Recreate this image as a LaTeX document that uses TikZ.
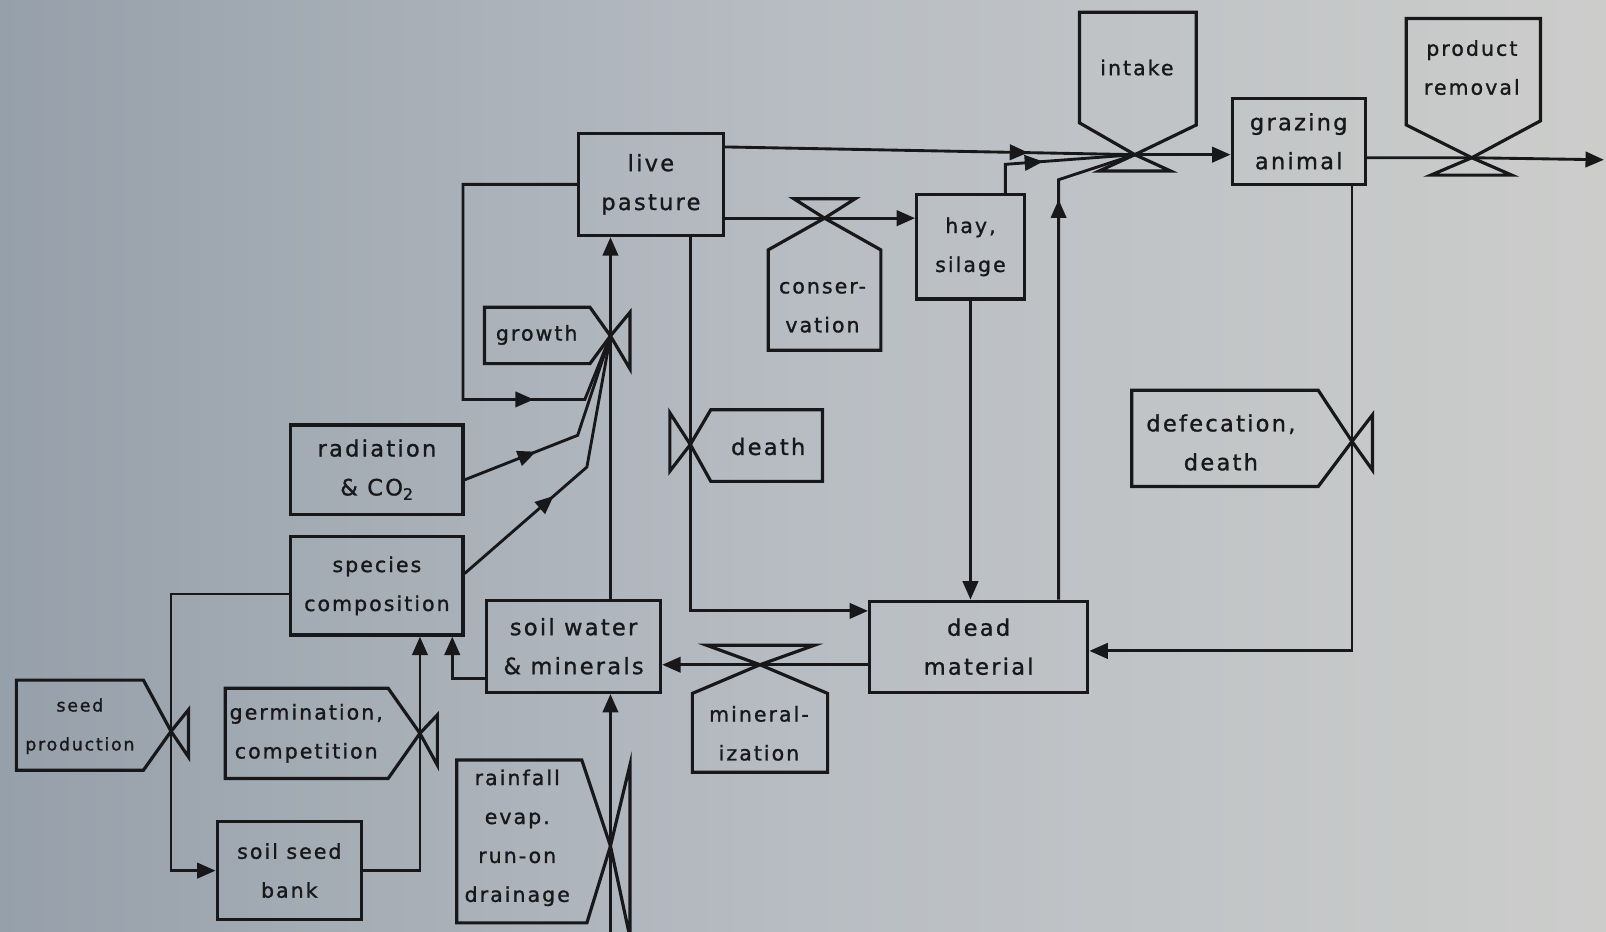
\documentclass[tikz,border=0pt]{standalone}
\usepackage{fontspec}
\setmainfont{DejaVu Sans}[LetterSpace=10,FakeBold=1.2]
\usetikzlibrary{arrows.meta,calc,decorations.markings}
\definecolor{ink}{RGB}{24,24,26}
\definecolor{bgL}{RGB}{150,160,170}
\definecolor{bgM}{RGB}{184,189,195}
\definecolor{bgR}{RGB}{204,205,203}
\tikzset{
  every node/.style={font=\fontsize{20}{38}\selectfont, text=ink},
  box/.style={draw=ink, line width=3.1pt, align=center, inner sep=0pt},
  lbl/.style={align=center, inner sep=0pt},
  big/.style={font=\fontsize{22}{38}\selectfont},
  conn/.style={draw=ink, color=ink, line width=2.8pt},
  shp/.style={draw=ink, line width=3.1pt, line join=miter},
  endarrow/.style={-{Triangle[length=18pt,width=15pt]}},
  arrowat/.style={decoration={markings, mark=at position #1 with {\arrow{Triangle[length=18pt,width=15pt]}}}, postaction={decorate}},
}
\begin{document}
\begin{tikzpicture}[x=1pt,y=-1pt]
\useasboundingbox (0,0) rectangle (1568,909);
\shade[left color=bgL, right color=bgR, middle color=bgM] (0,0) rectangle (1568,909);
\clip (0,0) rectangle (1568,909);

% stocks
\node[box, big, minimum width=141pt, minimum height=100pt] (live) at (635.5,180) {live\\pasture};
\node[box, minimum width=105pt, minimum height=102pt] (hay) at (947.5,241) {hay,\\silage};
\node[box, big, minimum width=130pt, minimum height=84pt] (graze) at (1268,138) {grazing\\animal};
\node[box, big, minimum width=168pt, minimum height=87pt] (rad) at (368,458.5) {radiation\\\& CO\textsubscript{2}};
\node[box, minimum width=168pt, minimum height=96pt] (spec) at (368,572) {species\\composition};
\node[box, big, minimum width=170pt, minimum height=90pt] (soil) at (560,631) {soil water\\\& minerals};
\node[box, minimum width=141pt, minimum height=96pt] (bank) at (282.5,850) {soil seed\\bank};
\node[box, big, minimum width=213pt, minimum height=89pt] (dead) at (955.5,631.5) {dead\\material};

% valve centres
\coordinate (vgrowth) at (596,328);
\coordinate (vseed) at (167,714);
\coordinate (vgerm) at (410,716);
\coordinate (vrain) at (596,826);
\coordinate (vdeath) at (674,434);
\coordinate (vdefec) at (1320,431);
\coordinate (vcons) at (805,213);
\coordinate (vmin) at (742,649);
\coordinate (vintake) at (1108,151);
\coordinate (vprod) at (1437,154);
\coordinate (out) at (1566,156);
\coordinate (rainbot) at (596,915);

% valves with their labels
\draw[shp] (vgrowth) -- (576,300) -- (473,300) -- (473,355) -- (576,355) -- cycle;
\draw[shp] (vgrowth) -- (615,305) -- (615,360) -- cycle;
\node[lbl] (tgrowth) at (524,327) {growth};

\draw[shp] (vseed) -- (140,664) -- (16,664) -- (16,752) -- (140,752) -- cycle;
\draw[shp] (vseed) -- (184,693) -- (184,739) -- cycle;
\node[lbl, font=\fontsize{17}{38}\selectfont] (tseed) at (78,709) {seed\\production};

\draw[shp] (vgerm) -- (379,672) -- (220,672) -- (220,760) -- (379,760) -- cycle;
\draw[shp] (vgerm) -- (427,698) -- (427,747) -- cycle;
\node[lbl] (tgerm) at (299,716) {germination,\\competition};

\draw[shp] (vrain) -- (568,742) -- (446,742) -- (446,901) -- (573,901) -- cycle;
\draw[shp] (vrain) -- (615,747) -- (615,915) -- cycle;
\node[lbl] (train) at (505,818) {rainfall\\evap.\\run-on\\drainage};

\draw[shp] (vdeath) -- (694,400) -- (803,400) -- (803,470) -- (694,470) -- cycle;
\draw[shp] (vdeath) -- (654,403) -- (654,460) -- cycle;
\node[lbl, big] (tdeath) at (750,436) {death};

\draw[shp] (vdefec) -- (1287,381) -- (1105,381) -- (1105,475) -- (1287,475) -- cycle;
\draw[shp] (vdefec) -- (1340,405) -- (1340,459) -- cycle;
\node[lbl, big] (tdefec) at (1192,432) {defecation,\\death};

\draw[shp] (vcons) -- (775,194) -- (835,194) -- cycle;
\draw[shp] (vcons) -- (860,244) -- (860,342) -- (750,342) -- (750,244) -- cycle;
\node[lbl] (tcons) at (803,300) {conser-\\vation};

\draw[shp] (vmin) -- (690,630) -- (795,630) -- cycle;
\draw[shp] (vmin) -- (808,677) -- (808,754) -- (676,754) -- (676,677) -- cycle;
\node[lbl] (tmin) at (741,716) {mineral-\\ization};

\draw[shp] (vintake) -- (1054,120) -- (1054,12) -- (1168,12) -- (1168,122) -- cycle;
\draw[shp] (vintake) -- (1073,167) -- (1143,167) -- cycle;
\node[lbl] (tintake) at (1110,66) {intake};

\draw[shp] (vprod) -- (1373,122) -- (1373,18) -- (1504,18) -- (1504,118) -- cycle;
\draw[shp] (vprod) -- (1397,171) -- (1476,171) -- cycle;
\node[lbl] (tprod) at (1437,66) {product\\removal};

% flows and links
\draw[conn, arrowat=0.74] ($(live.north east)+(0,15)$) -- (vintake);
\draw[conn, arrowat=0.42] ($(hay.north east)+(-20,0)$) -- ++(0,-28) -- (vintake);
\draw[conn, arrowat=0.8] ($(dead.north east)+(-30,0)$) -- ++(0,-410) -- (vintake);
\draw[conn, endarrow] (vintake) -- (vintake -| graze.west);
\draw[conn, endarrow] (vprod -| graze.east) -- (vprod) -- (out);
\draw[conn, endarrow] (vcons -| live.east) -- (vcons) -- (vcons -| hay.west);
\draw[conn, arrowat=0.77] (live.west) -| (452,390) -- (571,390) -- (vgrowth);
\draw[conn, arrowat=0.34] ($(rad.east)+(0,10)$) -- (564,425) -- (vgrowth);
\draw[conn, arrowat=0.40] ($(spec.east)+(0,-12)$) -- (573,456) -- (vgrowth);
\draw[conn, endarrow] (vgrowth |- soil.north) -- (vgrowth) -- (vgrowth |- live.south);
\draw[conn, endarrow] (rainbot) -- (vrain) -- (vrain |- soil.south);
\draw[conn, endarrow] ($(soil.south west)+(0,-15)$) -| ($(spec.south east)+(-12,0)$);
\draw[conn, endarrow] ($(spec.west)+(0,8)$) -| (vseed) |- (bank.west);
\draw[conn, endarrow] (bank.east) -| (vgerm) -- (vgerm |- spec.south);
\draw[conn, endarrow] (vdeath |- live.south) -- (vdeath) |- ($(dead.north west)+(0,11)$);
\draw[conn, endarrow] (hay.south) -- (hay.south |- dead.north);
\draw[conn, endarrow] (vmin -| dead.west) -- (vmin) -- (vmin -| soil.east);
\draw[conn, endarrow] (vdefec |- graze.south) -- (vdefec) |- ($(dead.east)+(0,4)$);
\end{tikzpicture}
\end{document}
